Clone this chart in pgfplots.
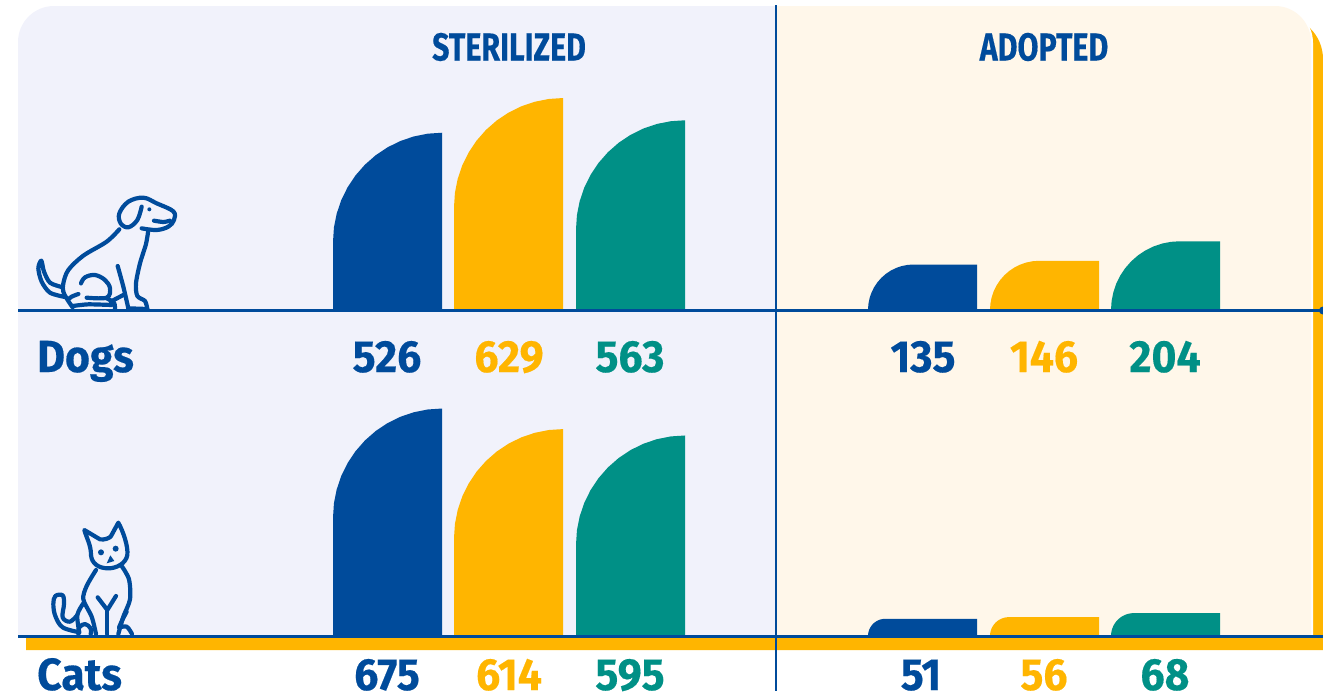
\documentclass[border=0pt]{standalone}
\usepackage{pgfplots}
\usepackage{pgfplotstable}
\usepackage{fontspec}
\pgfplotsset{compat=1.18}
\setmainfont{Fira Sans}[BoldFont={Fira Sans Bold}]
\newfontfamily\numfont{Fira Sans Bold}[FakeStretch=0.95,FakeBold=0.35]
\newfontfamily\capfont{Fira Sans Bold}[FakeStretch=0.78,FakeBold=0.3]
\definecolor{cblue}{HTML}{004B9B}
\definecolor{cyellow}{HTML}{FFB500}
\definecolor{cteal}{HTML}{009086}
\definecolor{clav}{HTML}{F1F2FB}
\definecolor{ccream}{HTML}{FFF7EA}
% outline of one bar: rounded top-left corner, square top-right corner
\pgfplotstableread{
a b w v
0 0 0 0
0 -1 0 1
.00856 -.86947 0 1
.03407 -.74118 0 1
.07612 -.61732 0 1
.13397 -.5 0 1
.20665 -.39124 0 1
.29289 -.29289 0 1
.39124 -.20665 0 1
.5 -.13397 0 1
.61732 -.07612 0 1
.74118 -.03407 0 1
.86947 -.00856 0 1
1 0 0 1
0 0 1 1
0 0 1 0
}\barshape
\newcommand{\roundbar}[3]{%
  \addplot[fill=#3,draw=none,forget plot] table[
    x expr={#1+min(#2*0.337,109)*\thisrow{a}+109*\thisrow{w}},
    y expr={#2*\thisrow{v}+min(#2,323.44)*\thisrow{b}}] {\barshape};}
\begin{document}
\begin{tikzpicture}[x=1pt,y=-1pt]
\useasboundingbox (0,0) rectangle (1323,697);
% shadow and panels
\fill[cyellow] (26,650) -- (26,100) -- (1280,16) arc[start angle=270,end angle=360,radius=43] -- (1323,650) -- cycle;
\fill[white] (700,5) -- (1275,5) arc[start angle=270,end angle=360,radius=38] -- (1313,636) -- (700,636) -- cycle;
\fill[clav] (776,6) -- (54,6) arc[start angle=270,end angle=180,radius=36] -- (18,636) -- (776,636) -- cycle;
\fill[ccream] (776,6) -- (1275,6) arc[start angle=270,end angle=360,radius=36] -- (1311,636) -- (776,636) -- cycle;
% bars
\begin{axis}[at={(0pt,-310pt)},anchor=origin,scale only axis,width=1323pt,height=310pt,
  xmin=0,xmax=1323,ymin=0,ymax=919.88,hide axis,clip=false]
\roundbar{333}{526}{cblue}
\roundbar{454}{629}{cyellow}
\roundbar{576}{563}{cteal}
\roundbar{868}{135}{cblue}
\roundbar{990}{146}{cyellow}
\roundbar{1111}{204}{cteal}
\end{axis}
\begin{axis}[at={(0pt,-636pt)},anchor=origin,scale only axis,width=1323pt,height=326pt,
  xmin=0,xmax=1323,ymin=0,ymax=967.36,hide axis,clip=false]
\roundbar{333}{675}{cblue}
\roundbar{454}{614}{cyellow}
\roundbar{576}{595}{cteal}
\roundbar{868}{51}{cblue}
\roundbar{990}{56}{cyellow}
\roundbar{1111}{68}{cteal}
\end{axis}
% rules
\draw[cblue,line width=2.6pt] (18,310.5) -- (1323,310.5);
\draw[cblue,line width=2.8pt] (18,636.5) -- (1323,636.5);
\draw[cblue,line width=2.4pt] (776,5) -- (776,691);
\fill[cblue] (1323,310.5) circle (4);
% dog
\begin{scope}[shift={(0,170)},x=0.33333pt,y=-0.33333pt,cblue,line width=4.2pt,line cap=round,line join=round]
\draw plot[smooth,tension=.55] coordinates {(218,412) (203,390) (190,365) (190,340) (205,300) (250,257) (320,215) (358,178)};
\draw plot[smooth,tension=.6] coordinates {(425,110) (412,150) (385,172) (362,160) (358,130) (385,95) (430,83) (470,100) (520,124) (522,150) (505,170) (470,180) (425,175)};
\draw plot[smooth,tension=.5] coordinates {(462,152) (490,156) (510,152)};
\fill (448,118) circle (6);
\draw plot[smooth,tension=.5] coordinates {(445,180) (438,222) (420,280) (408,340) (412,378) (435,393) (442,417)};
\draw plot[smooth,tension=.4] coordinates {(353,288) (370,350) (385,415)};
\draw plot[smooth,tension=.6] coordinates {(243,340) (255,322) (285,315) (315,330) (330,355) (320,383) (260,383)};
\draw plot[smooth,tension=.5] coordinates {(320,385) (342,398) (345,417)};
\draw plot[smooth,tension=.4] coordinates {(218,408) (265,403) (335,405)};
\draw plot[smooth,tension=.5] coordinates {(235,372) (215,380) (205,388)};
\draw plot[smooth,tension=.5] coordinates {(370,375) (345,388) (332,395)};
\draw plot[smooth,tension=.5] coordinates {(195,381) (150,368) (125,335) (115,295) (124,272) (132,305) (150,338) (185,351)};
\draw (385,415) -- (442,417);
\end{scope}
% cat
\begin{scope}[shift={(20,500)},x=0.33333pt,y=-0.33333pt,cblue,line width=4.2pt,line cap=round,line join=round]
\draw (193,90) -- (240,118) .. controls (255,120) and (265,115) .. (272,110) -- (295,68) .. controls (310,95) and (325,140) .. (322,165) .. controls (318,190) and (290,205) .. (265,205) .. controls (235,205) and (215,190) .. (213,165) .. controls (213,135) and (200,115) .. (193,90) -- cycle;
\fill (243,157) circle (9);
\fill (287,146) circle (9);
\fill (260,190) -- (283,183) -- (271,166) -- cycle;
\draw plot[smooth,tension=.5] coordinates {(228,210) (200,258) (190,298) (215,350) (228,402)};
\draw plot[smooth,tension=.5] coordinates {(305,198) (327,238) (330,298) (310,350) (295,402)};
\draw (233,292) -- (262,330) -- (288,288);
\draw (262,330) -- (262,402);
\draw plot[smooth,tension=.5] coordinates {(190,310) (172,345) (178,398)};
\draw plot[smooth,tension=.6] coordinates {(175,402) (178,382) (195,372) (212,385) (212,402)};
\draw plot[smooth,tension=.6] coordinates {(297,383) (320,380) (336,402)};
\draw plot[smooth,tension=.5] coordinates {(320,335) (306,362) (298,380)};
\draw plot[smooth,tension=.6] coordinates {(172,345) (150,365) (128,352) (132,312) (128,286) (106,288) (100,312) (106,348) (128,382) (175,396)};
\end{scope}
% text
\tikzset{t/.style={anchor=base,inner sep=0pt}}
\newcommand{\num}[4]{\node[t,text=#4] at (#1,#2) {\numfont\fontsize{45}{45}\selectfont #3};}
\node[t,text=cblue] at (509,60.5) {\capfont\fontsize{39}{39}\selectfont STERILIZED};
\node[t,text=cblue] at (1044,60.5) {\capfont\fontsize{39}{39}\selectfont ADOPTED};
\node[t,anchor=base west,text=cblue] at (37,372) {\numfont\fontsize{45}{45}\selectfont Dogs};
\node[t,anchor=base west,text=cblue] at (37,690) {\numfont\fontsize{45}{45}\selectfont Cats};
\num{387}{372}{526}{cblue}
\num{509}{372}{629}{cyellow}
\num{630}{372}{563}{cteal}
\num{923}{372}{135}{cblue}
\num{1044}{372}{146}{cyellow}
\num{1165}{372}{204}{cteal}
\num{387}{690}{675}{cblue}
\num{509}{690}{614}{cyellow}
\num{630}{690}{595}{cteal}
\num{921}{690}{51}{cblue}
\num{1044}{690}{56}{cyellow}
\num{1165}{690}{68}{cteal}
\end{tikzpicture}
\end{document}
